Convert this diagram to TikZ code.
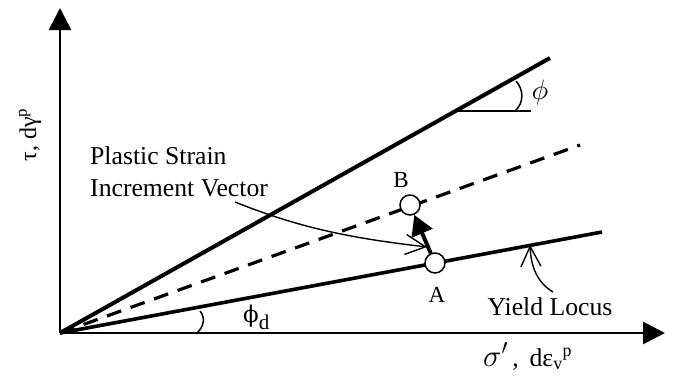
\documentclass[tikz,border=0pt]{standalone}
\usepackage{graphicx}
\usepackage{fontspec}
\setmainfont{Liberation Serif}
\newfontfamily\dvserif{DejaVu Serif}
\usetikzlibrary{arrows.meta}
\begin{document}
\begin{tikzpicture}[x=1pt,y=-1pt,
  axis/.style={line width=2.8pt,-{Triangle[length=22pt,width=22pt]}},
  thickline/.style={line width=4pt},
  yieldline/.style={line width=3.6pt},
  dashline/.style={line width=3.2pt,dash pattern=on 15pt off 10pt},
  thin/.style={line width=1.5pt},
  leader/.style={line width=1.4pt,-{Straight Barb[length=20pt,width=20pt]}},
  pt/.style={circle,draw,fill=white,line width=1.5pt,minimum size=20pt,inner sep=0pt},
  vec/.style={line width=4pt,-{Triangle[length=20pt,width=22pt]}},
  lbl/.style={font=\fontsize{25.7}{32}\selectfont,inner sep=0pt},
  ptlbl/.style={font=\fontsize{23}{28}\selectfont,inner sep=0pt}
]
\useasboundingbox (0,0) rectangle (678,384);
\coordinate (O) at (60,333);
\coordinate (Ytip) at (60,8);
\coordinate (Xtip) at (665,333);
\coordinate (Uend) at (550,58);
\coordinate (Dend) at (580,145);
\coordinate (Yend) at (602,232);
% axes
\draw[axis] (O) -- (Ytip);
\draw[axis] (O) -- (Xtip);
% lines
\draw[thickline] (O) -- (Uend);
\draw[dashline] (O) -- (Dend);
\draw[yieldline] (O) -- (Yend);
% phi reference
\coordinate (Pc) at (457,111);
\coordinate (Pr) at (531,111);
\draw[thin] (Pc) -- (Pr);
\draw[thin] (515,111) .. controls (524,103) and (524,90) .. (516,81);
\node[inner sep=0pt] (phi) at (540,92) {\scalebox{2.8}{$\phi$}};
% phi_d
\draw[thin] (196,334) .. controls (205,326) and (205,317) .. (200,311);
\node[lbl,anchor=base west] (phid) at (243,322) {{\dvserif\fontsize{23}{23}\selectfont ϕ}\raisebox{-7pt}{\fontsize{21}{21}\selectfont d}};
% points
\node[pt] (A) at (435,263) {};
\node[pt] (B) at (410,205) {};
\draw[vec] (A) -- (B);
\node[ptlbl,anchor=base] (Alab) at (437,302) {A};
\node[ptlbl,anchor=base] (Blab) at (401,187) {B};
% plastic strain label
\node[lbl,anchor=base west] (ps1) at (90,164) {Plastic Strain};
\node[lbl,anchor=base west] (ps2) at (90,196) {Increment Vector};
\coordinate (psstart) at (235,202);
\coordinate (pstip) at (427,247);
\draw[leader] (psstart) .. controls (300,228) and (350,238) .. (pstip);
% yield locus label
\node[lbl,anchor=base] (yl) at (550,315) {Yield Locus};
\coordinate (ylstart) at (553,292);
\coordinate (yltip) at (530,245);
\draw[leader] (ylstart) .. controls (538,283) and (531,268) .. (yltip);
% axis labels
\node[lbl,anchor=base,rotate=90,font=\fontsize{24}{28}\selectfont] (ylab) at (36,135) {τ, dγ\textsuperscript{p}};
\node[lbl,anchor=base west] (xlab) at (483,366) {\scalebox{1.25}{$\sigma'$}\,, \,dε\textsubscript{v}\textsuperscript{p}};
\end{tikzpicture}
\end{document}
